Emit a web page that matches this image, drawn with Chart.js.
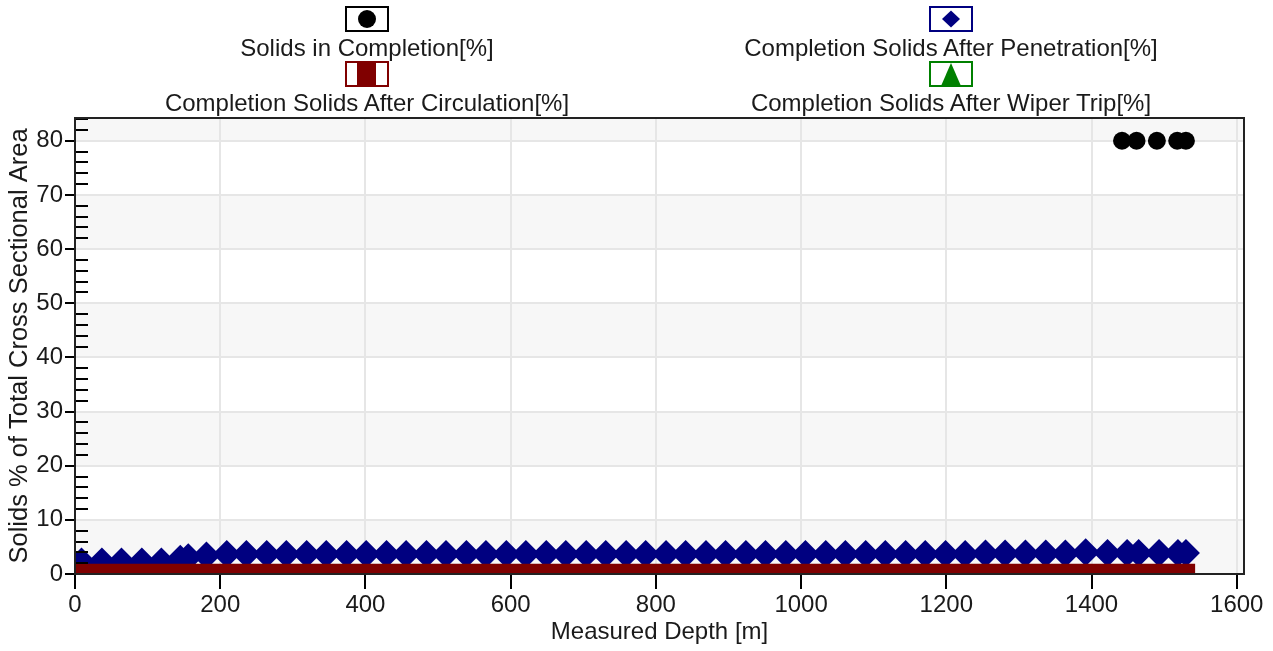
<!DOCTYPE html>
<html>
<head>
<meta charset="utf-8">
<script src="https://cdn.jsdelivr.net/npm/chart.js@4"></script>
<style>
  html, body { margin: 0; padding: 0; background: #fff; }
  #wrap { position: relative; width: 1273px; height: 651px; font-family: "Liberation Sans", Arial, sans-serif; }
  #chart { position: absolute; left: 0; top: 0; }
  .item { position: absolute; width: 600px; text-align: center; color: #1a1a1a; font-size: 24px; line-height: 24px; }
  .item svg { display: block; margin: 0 auto; }
</style>
</head>
<body>
<div id="wrap">
  <canvas id="chart" width="1273" height="651"></canvas>
  <div id="legend"></div>
</div>
<script>
// Solids in Completion
const depthCompletion = [1442, 1462, 1490, 1518, 1530]
const completion = [80, 80, 80, 80, 80]

// Completion Solids After Penetration
const depthPenetration = [9, 37, 64, 92, 119, 145, 156, 181, 209, 236, 264, 291, 319, 346, 374, 401, 429, 456, 484, 511,
  539, 566, 594, 621, 649, 676, 704, 731, 759, 786, 814, 841, 869, 896, 924, 951, 979, 1006, 1034, 1061,
  1089, 1116, 1144, 1171, 1199, 1226, 1254, 1281, 1309, 1337, 1364, 1392, 1422, 1449, 1465, 1493, 1519, 1530]
const penetration = [2.3, 2.3, 2.3, 2.3, 2.3, 2.8, 3.1, 3.4, 3.7, 3.7, 3.7, 3.7, 3.7, 3.7, 3.7, 3.7, 3.7, 3.7, 3.7, 3.7,
  3.7, 3.7, 3.7, 3.7, 3.7, 3.7, 3.7, 3.7, 3.7, 3.7, 3.7, 3.7, 3.7, 3.7, 3.7, 3.7, 3.7, 3.7, 3.7, 3.7,
  3.7, 3.7, 3.7, 3.7, 3.7, 3.7, 3.8, 3.8, 3.8, 3.8, 3.8, 4.0, 3.9, 3.9, 3.9, 3.9, 3.9, 3.9]

// Completion Solids After Circulation
const depthCirculation = [0, 1543]
const circulation = [1.9, 1.9]

// Completion Solids After Wiper Trip (no points in view)
const depthWiper = []
const wiper = []

const xTicks = [0, 200, 400, 600, 800, 1000, 1200, 1400, 1600]
const yTicks = [0, 10, 20, 30, 40, 50, 60, 70, 80]
const xMin = 0, xMax = 1610
const yMin = 0, yMax = 84.2, yMinorStep = 2

const toXY = (xs, ys) => xs.map((x, i) => ({ x: x, y: ys[i] }))

const series = [
  { label: "Solids in Completion[%]", color: "#000000", style: "circle", data: toXY(depthCompletion, completion), radius: 9, order: 0 },
  { label: "Completion Solids After Penetration[%]", color: "#000080", style: "rectRot", data: toXY(depthPenetration, penetration), radius: 14, order: 2 },
  { label: "Completion Solids After Circulation[%]", color: "#800000", style: "rect", data: toXY(depthCirculation, circulation), radius: 0, order: 1, fill: true },
  { label: "Completion Solids After Wiper Trip[%]", color: "#008000", style: "triangle", data: toXY(depthWiper, wiper), radius: 9, order: 3 },
]

// legend: two columns, symbol box above the label
const legendPos = [
  { cx: 367, top: 6 }, { cx: 951, top: 6 },
  { cx: 367, top: 61 }, { cx: 951, top: 61 },
]
function symbolSvg(s) {
  let inner = ""
  if (s.style === "circle") inner = `<circle cx="22" cy="13" r="9" fill="${s.color}"/>`
  if (s.style === "rectRot") inner = `<polygon points="13,13 22,4.5 31,13 22,21.5" fill="${s.color}"/>`
  if (s.style === "rect") inner = `<rect x="12" y="1" width="19" height="24" fill="${s.color}"/>`
  if (s.style === "triangle") inner = `<polygon points="12,25 22,2 32,25" fill="${s.color}"/>`
  return `<svg width="44" height="26"><rect x="1" y="1" width="42" height="24" fill="#fff" stroke="${s.color}" stroke-width="2"/>${inner}</svg>`
}
const legend = document.getElementById("legend")
series.forEach((s, i) => {
  const div = document.createElement("div")
  div.className = "item"
  div.style.left = (legendPos[i].cx - 300) + "px"
  div.style.top = legendPos[i].top + "px"
  div.innerHTML = symbolSvg(s) + `<div style="margin-top:4px">${s.label}</div>`
  legend.appendChild(div)
})

// alternating bands, minor ticks and frame
const plotDecor = {
  id: "plotDecor",
  beforeDraw(chart) {
    const { ctx, chartArea: a, scales: { y } } = chart
    ctx.save()
    yTicks.forEach((v, i) => {
      if (i % 2 === 0) {
        const top = y.getPixelForValue(Math.min(v + 10, yMax))
        const bot = y.getPixelForValue(v)
        ctx.fillStyle = "#f7f7f7"
        ctx.fillRect(a.left, top, a.right - a.left, bot - top)
      }
    })
    // band above the last labelled line
    const last = yTicks[yTicks.length - 1]
    if ((yTicks.length - 1) % 2 === 1) {
      ctx.fillStyle = "#f7f7f7"
      ctx.fillRect(a.left, a.top, a.right - a.left, y.getPixelForValue(last) - a.top)
    }
    ctx.restore()
  },
  afterDraw(chart) {
    const { ctx, chartArea: a, scales: { y } } = chart
    ctx.save()
    ctx.strokeStyle = "#000"
    ctx.lineWidth = 2
    ctx.beginPath()
    for (let v = yMin; v <= yMax; v += yMinorStep) {
      if (yTicks.includes(v)) continue
      const py = Math.round(y.getPixelForValue(v))
      ctx.moveTo(a.left, py)
      ctx.lineTo(a.left + 13, py)
    }
    ctx.stroke()
    ctx.strokeStyle = "#222"
    ctx.strokeRect(a.left, a.top, a.right - a.left, a.bottom - a.top)
    ctx.restore()
  },
}

const tickFont = { family: "'Liberation Sans', Arial, sans-serif", size: 24 }

new Chart(document.getElementById("chart"), {
  type: "scatter",
  data: {
    datasets: series.map((s) => ({
      label: s.label,
      data: s.data,
      showLine: !!s.fill,
      fill: s.fill ? "origin" : false,
      borderColor: s.color,
      borderWidth: 0,
      backgroundColor: s.color,
      pointStyle: s.style,
      pointRadius: s.radius,
      pointHoverRadius: s.radius,
      pointBorderWidth: 0,
      order: s.order,
    })),
  },
  options: {
    responsive: false,
    animation: false,
    layout: { padding: { top: 118, right: 29, left: 0, bottom: 0 } },
    plugins: { legend: { display: false }, tooltip: { enabled: false } },
    scales: {
      x: {
        type: "linear",
        min: xMin,
        max: xMax,
        afterFit: (scale) => { scale.height = 77 },
        afterBuildTicks: (scale) => { scale.ticks = xTicks.map((v) => ({ value: v })) },
        ticks: { color: "#1a1a1a", font: tickFont, padding: 2, maxRotation: 0, autoSkip: false, callback: (v) => String(v) },
        grid: { color: "#e6e6e6", lineWidth: 2, tickColor: "#000", tickWidth: 2, tickLength: 15 },
        border: { color: "#000", width: 2 },
        title: { display: true, text: "Measured Depth [m]", color: "#1a1a1a", font: tickFont, padding: { top: 0, bottom: 4 } },
      },
      y: {
        min: yMin,
        max: yMax,
        afterFit: (scale) => { scale.width = 75 },
        afterBuildTicks: (scale) => { scale.ticks = yTicks.map((v) => ({ value: v })) },
        ticks: { color: "#1a1a1a", font: tickFont, padding: 2, autoSkip: false, callback: (v) => String(v) },
        grid: { color: "#e6e6e6", lineWidth: 2, tickColor: "#000", tickWidth: 2, tickLength: 10 },
        border: { color: "#000", width: 2 },
        title: { display: true, text: "Solids % of Total Cross Sectional Area", color: "#1a1a1a", font: { family: tickFont.family, size: 25.5 }, padding: { top: 5, bottom: 0 } },
      },
    },
  },
  plugins: [plotDecor],
})
</script>
</body>
</html>
